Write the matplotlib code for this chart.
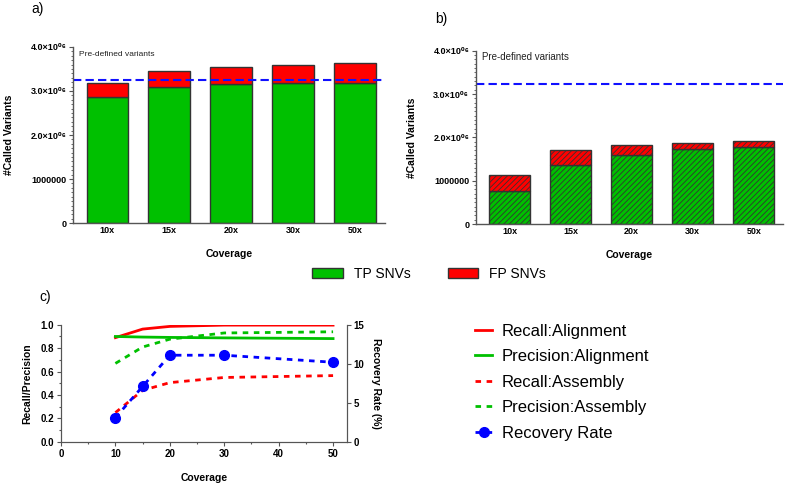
import matplotlib
matplotlib.use("Agg")
import matplotlib.pyplot as plt
from matplotlib.ticker import FixedLocator, MultipleLocator
from matplotlib.patches import Patch

plt.rcParams['font.family'] = ['Liberation Sans', 'DejaVu Sans']
plt.rcParams['hatch.linewidth'] = 0.6

coverage = ["10x", "15x", "20x", "30x", "50x"]
tp_align = [2870000, 3090000, 3150000, 3180000, 3180000]
total_align = [3180000, 3450000, 3540000, 3580000, 3640000]
tp_asm = [755000, 1370000, 1595000, 1730000, 1790000]
total_asm = [1140000, 1710000, 1820000, 1880000, 1920000]
predefined = 3240000

cov_num = [10, 15, 20, 30, 50]
recall_align = [0.89, 0.963, 0.986, 0.997, 0.997]
prec_align = [0.90, 0.895, 0.892, 0.888, 0.882]
recall_asm = [0.25, 0.44, 0.506, 0.55, 0.566]
prec_asm = [0.67, 0.81, 0.877, 0.93, 0.94]
recovery = [3.1, 7.1, 11.1, 11.1, 10.2]

ytick_vals = [0, 1000000, 2000000, 3000000, 4000000]
ytick_labels = ["0", "1000000", "2.0×10⁰⁶", "3.0×10⁰⁶", "4.0×10⁰⁶"]

GREEN = "#00c000"
RED = "#ff0000"
EDGE = "#333333"
SPINE = "#555555"

fig = plt.figure(figsize=(7.87, 4.84), dpi=100)

def bar_panel(ax, tp, total, hatch, pre_text_size):
    x = list(range(len(coverage)))
    fp = [t - p for t, p in zip(total, tp)]
    ax.bar(x, tp, width=0.67, color=GREEN, edgecolor=EDGE, linewidth=1.0, hatch=hatch)
    ax.bar(x, fp, bottom=tp, width=0.67, color=RED, edgecolor=EDGE, linewidth=1.0, hatch=hatch)
    ax.axhline(predefined, color="#1010ff", lw=1.5, ls=(0, (4, 2)))
    ax.set_ylim(0, 4000000)
    ax.set_xlim(-0.55, 4.48)
    ax.set_xticks(x)
    ax.set_xticklabels(coverage, fontsize=6.5, fontweight="bold")
    ax.yaxis.set_major_locator(FixedLocator(ytick_vals))
    ax.set_yticklabels(ytick_labels, fontsize=6.5, fontweight="bold")
    ax.yaxis.set_minor_locator(MultipleLocator(100000))
    ax.tick_params(axis="y", which="minor", length=1.5, width=0.6, color=SPINE)
    ax.tick_params(axis="both", which="major", length=3, width=0.8, color=SPINE, pad=2)
    ax.tick_params(axis="x", length=0)
    for s in ["top", "right"]:
        ax.spines[s].set_visible(False)
    for s in ["left", "bottom"]:
        ax.spines[s].set_color(SPINE)
        ax.spines[s].set_linewidth(1.0)
    ax.set_xlabel("Coverage", fontsize=7.5, fontweight="bold", labelpad=10)
    ax.set_ylabel("#Called Variants", fontsize=7.5, fontweight="bold", labelpad=12)
    ax.text(0.02, predefined + 550000, "Pre-defined variants", transform=ax.get_yaxis_transform(),
            fontsize=pre_text_size, color="#222222")

ax_a = fig.add_axes([0.093, 0.539, 0.396, 0.364])
bar_panel(ax_a, tp_align, total_align, None, 6)
ax_b = fig.add_axes([0.605, 0.537, 0.39, 0.358])
bar_panel(ax_b, tp_asm, total_asm, "//////", 7)

fig.text(0.04, 0.995, "a)", fontsize=10, va="top")
fig.text(0.553, 0.975, "b)", fontsize=10, va="top")
fig.text(0.05, 0.40, "c)", fontsize=10, va="top")

fig.legend(handles=[Patch(facecolor=GREEN, edgecolor=EDGE, label="TP SNVs")],
           loc="center left", bbox_to_anchor=(0.381, 0.434), frameon=False, fontsize=10,
           handlelength=2.2, handleheight=0.8, handletextpad=0.8)
fig.legend(handles=[Patch(facecolor=RED, edgecolor=EDGE, label="FP SNVs")],
           loc="center left", bbox_to_anchor=(0.553, 0.434), frameon=False, fontsize=10,
           handlelength=2.2, handleheight=0.8, handletextpad=0.8)

# Panel c
ax_c = fig.add_axes([0.0775, 0.087, 0.363, 0.242])
l1, = ax_c.plot(cov_num, recall_align, color=RED, lw=2, label="Recall:Alignment")
l2, = ax_c.plot(cov_num, prec_align, color=GREEN, lw=2, label="Precision:Alignment")
l3, = ax_c.plot(cov_num, recall_asm, color=RED, lw=2, ls=(0, (2, 2)), label="Recall:Assembly")
l4, = ax_c.plot(cov_num, prec_asm, color=GREEN, lw=2, ls=(0, (2, 2)), label="Precision:Assembly")
ax_c.set_xlim(0, 52.5)
ax_c.set_ylim(0, 1.0)
ax_c.xaxis.set_major_locator(MultipleLocator(10))
ax_c.xaxis.set_minor_locator(MultipleLocator(5))
ax_c.yaxis.set_major_locator(MultipleLocator(0.2))
ax_c.yaxis.set_minor_locator(MultipleLocator(0.1))
ax_c.yaxis.set_major_formatter(matplotlib.ticker.FormatStrFormatter("%.1f"))
for lab in ax_c.get_xticklabels() + ax_c.get_yticklabels():
    lab.set_fontweight("bold")
ax_c.tick_params(axis="both", which="major", labelsize=7, length=3, width=0.8, color=SPINE, pad=2)
ax_c.tick_params(axis="both", which="minor", length=1.5, width=0.8, color=SPINE)
ax_c.spines["top"].set_visible(False)
for s in ["left", "bottom", "right"]:
    ax_c.spines[s].set_color(SPINE)
ax_c.set_xlabel("Coverage", fontsize=7.5, fontweight="bold", labelpad=10)
ax_c.set_ylabel("Recall/Precision", fontsize=7.5, fontweight="bold", labelpad=6)

ax_r = ax_c.twinx()
l5, = ax_r.plot(cov_num, recovery, color="#0000ff", lw=2, ls=(0, (2, 2)), marker="o",
                markersize=7, label="Recovery Rate")
ax_r.set_ylim(0, 15)
ax_r.yaxis.set_major_locator(MultipleLocator(5))
ax_r.spines["top"].set_visible(False)
for s in ["left", "bottom", "right"]:
    ax_r.spines[s].set_color(SPINE)
ax_r.tick_params(axis="y", labelsize=7, length=3, width=0.8, color=SPINE, pad=2)
for lab in ax_r.get_yticklabels():
    lab.set_fontweight("bold")
ax_r.set_ylabel("Recovery Rate (%)", fontsize=7.5, fontweight="bold", rotation=270, labelpad=12)

fig.legend(handles=[l1, l2, l3, l4, l5], loc="upper left", bbox_to_anchor=(0.585, 0.362),
           frameon=False, fontsize=12, handlelength=1.0, handletextpad=0.6, labelspacing=0.63)

fig.savefig("out.png", dpi=100)
